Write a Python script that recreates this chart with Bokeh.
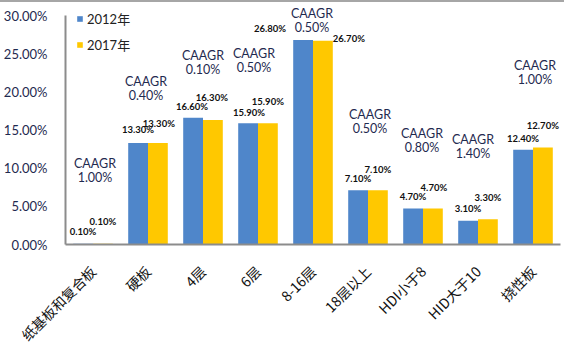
from bokeh.plotting import figure
from bokeh.models import (ColumnDataSource, Range1d, FixedTicker,
                          NumeralTickFormatter, LabelSet, Legend, LegendItem)
from bokeh.core.properties import value
from bokeh.transform import dodge
from bokeh.embed import file_html
from bokeh.resources import INLINE
import math

# ---- data ----
categories = ["纸基板和复合板", "硬板", "4层", "6层", "8-16层", "18层以上",
              "HDI小于8", "HID大于10", "挠性板"]
share_2012 = [0.001, 0.133, 0.166, 0.159, 0.268, 0.071, 0.047, 0.031, 0.124]
share_2017 = [0.001, 0.133, 0.163, 0.159, 0.267, 0.071, 0.047, 0.033, 0.127]
caagr = [0.010, 0.004, 0.001, 0.005, 0.005, 0.005, 0.008, 0.014, 0.010]
series_names = ["2012年", "2017年"]
y_ticks = [0.0, 0.05, 0.10, 0.15, 0.20, 0.25, 0.30]

# ---- label placement (pixels / axis units), kept apart from the data ----
lab12_dx = [0, 0, -1, 1, -33, 0, 0, 0, 0]
lab12_dy = [12, 13, 11, 11, 11, 12, 12, 12, 11]
lab17_dx = [0, 1, -1, 0, 26, 0, 1, 0, 0]
lab17_dy = [22, 19, 23, 22, 2, 21, 21, 22, 22]
caagr_y = [0.106, 0.214, 0.248, 0.250, 0.303, 0.170, 0.145, 0.137, 0.234]
caagr_dx = [2, -2, 0, -4, -1, 2, -1, -5, 2]

BLUE = "#4F86CA"
YELLOW = "#FFC800"
NAVY = "#1F2A50"
GRAY = "#8C8C8C"

n = len(categories)
centers = [i + 0.5 for i in range(n)]   # category slots on the x scale

src = ColumnDataSource(dict(
    cat=categories, xc=centers, v12=share_2012, v17=share_2017,
    t12=[f"{v*100:.2f}%" for v in share_2012],
    t17=[f"{v*100:.2f}%" for v in share_2017],
    dx12=lab12_dx, dy12=lab12_dy, dx17=lab17_dx, dy17=lab17_dy,
    cy=caagr_y, cdx=caagr_dx,
    ctitle=["CAAGR"] * n,
    cval=[f"{v*100:.2f}%" for v in caagr],
))

# Frame fills the whole canvas; axes are pinned inside it.
W, H = 564, 343
PX_X = 55.0                 # pixels per category slot
PX_Y = 229 / 0.30           # pixels per unit share
x0 = -65 / PX_X
y0 = -(H - 242) / PX_Y
p = figure(width=W, height=H,
           x_range=Range1d(x0, x0 + W / PX_X),
           y_range=Range1d(y0, y0 + H / PX_Y),
           output_backend="svg", toolbar_location=None,
           min_border=0, min_border_left=0, min_border_right=0,
           min_border_top=0, min_border_bottom=0,
           styles={"border-top": "2px solid #A6A6A6"})
p.outline_line_color = None
p.grid.visible = False
p.background_fill_color = "white"

r12 = p.vbar(x=dodge("xc", -0.18), top="v12", width=0.36,
             source=src, fill_color=BLUE, line_color=None)
r17 = p.vbar(x=dodge("xc", 0.18), top="v17", width=0.36,
             source=src, fill_color=YELLOW, line_color=None)

# y axis
ya = p.yaxis[0]
ya.fixed_location = 0
ya.ticker = FixedTicker(ticks=y_ticks)
ya.bounds = (y_ticks[0], y_ticks[-1])
ya.formatter = NumeralTickFormatter(format="0.00%")
ya.major_tick_line_color = None
ya.minor_tick_line_color = None
ya.axis_line_color = GRAY
ya.axis_line_width = 2
ya.major_label_text_font = "Lato"
ya.major_label_text_font_size = "13px"
ya.major_label_text_color = NAVY
ya.major_label_standoff = 12

# category axis
xa = p.xaxis[0]
xa.fixed_location = 0
xa.ticker = FixedTicker(ticks=centers)
xa.major_label_overrides = {c: name for c, name in zip(centers, categories)}
xa.bounds = (0, n)
xa.major_tick_line_color = None
xa.minor_tick_line_color = None
xa.axis_line_color = GRAY
xa.axis_line_width = 2
xa.major_label_orientation = math.pi / 4
xa.major_label_text_font = "Noto Sans CJK SC"
xa.major_label_text_font_size = "14px"
xa.major_label_text_color = "#111111"
xa.major_label_standoff = 18

# value labels
common = dict(source=src, text_align="center", text_baseline="middle",
              text_font=value("Lato"), text_font_size=value("9.5px"),
              text_font_style="bold", text_color="#111111")
p.add_layout(LabelSet(x=dodge("xc", -0.18), y="v12", text="t12",
                      x_offset="dx12", y_offset="dy12", **common))
p.add_layout(LabelSet(x=dodge("xc", 0.18), y="v17", text="t17",
                      x_offset="dx17", y_offset="dy17", **common))

# CAAGR labels
cc = dict(source=src, text_align="center", text_baseline="middle",
          text_font=value("Lato"), text_font_size=value("12.5px"),
          text_color=NAVY)
p.add_layout(LabelSet(x="xc", y="cy", text="ctitle",
                      x_offset="cdx", y_offset=0, **cc))
p.add_layout(LabelSet(x="xc", y="cy", text="cval",
                      x_offset="cdx", y_offset=-14, **cc))

legend = Legend(items=[LegendItem(label=series_names[0], renderers=[r12]),
                       LegendItem(label=series_names[1], renderers=[r17])],
                location=(76, 291), margin=0, padding=0, spacing=7,
                glyph_width=7, glyph_height=7, label_height=14,
                label_standoff=4, border_line_color=None,
                background_fill_alpha=0,
                label_text_font="Lato, 'Noto Sans CJK SC'",
                label_text_font_size="13px", label_text_color="#222222")
p.add_layout(legend)

open("out.html", "w").write(file_html(p, INLINE))
